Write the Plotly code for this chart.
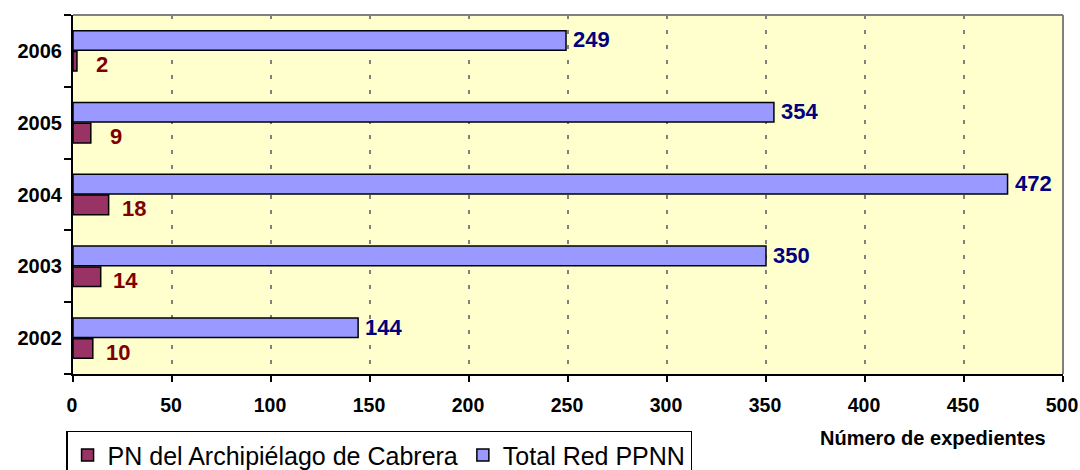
import plotly.graph_objects as go

years = ["2002", "2003", "2004", "2005", "2006"]
pn_cabrera = [10, 14, 18, 9, 2]
total_red = [144, 350, 472, 354, 249]
x_ticks = [0, 50, 100, 150, 200, 250, 300, 350, 400, 450, 500]

FONT = "Arial, Liberation Sans, sans-serif"

fig = go.Figure()
fig.add_trace(go.Bar(
    y=years, x=pn_cabrera, orientation="h", name="PN del Archipiélago de Cabrera",
    marker=dict(color="#993366", line=dict(color="black", width=1.5)),
))
fig.add_trace(go.Bar(
    y=years, x=total_red, orientation="h", name="Total Red PPNN",
    marker=dict(color="#9999FF", line=dict(color="black", width=1.5)),
))

annotations = []
for i, v in enumerate(total_red):
    annotations.append(dict(
        x=v, y=i, xref="x", yref="y", text=f"<b>{v}</b>", showarrow=False,
        xanchor="left", yanchor="middle", xshift=5, yshift=11,
        font=dict(family=FONT, size=22, color="#000080"),
    ))
for i, v in enumerate(pn_cabrera):
    annotations.append(dict(
        x=v, y=i, xref="x", yref="y", text=f"<b>{v}</b>", showarrow=False,
        xanchor="center", yanchor="middle", xshift=25, yshift=-14,
        font=dict(family=FONT, size=22, color="#800000"),
    ))
annotations.append(dict(
    x=0.869, y=-0.178, xref="paper", yref="paper", text="<b>Número de expedientes</b>",
    showarrow=False, xanchor="center", yanchor="middle",
    font=dict(family=FONT, size=20, color="black"),
))

fig.update_layout(
    width=1080, height=470,
    margin=dict(l=73, r=17, t=15, b=96, autoexpand=False),
    paper_bgcolor="white",
    plot_bgcolor="#FFFFCE",
    barmode="group",
    bargap=0.42,
    bargroupgap=0.06,
    font=dict(family=FONT, color="black"),
    showlegend=True,
    legend=dict(
        orientation="h", x=-0.007, y=-0.158, xanchor="left", yanchor="top",
        bgcolor="white", bordercolor="black", borderwidth=1.5,
        font=dict(family=FONT, size=25, color="black"),
        traceorder="normal",
    ),
    annotations=annotations,
    shapes=[
        dict(type="line", xref="paper", yref="paper", x0=0, x1=1, y0=1, y1=1,
             line=dict(color="#808080", width=2), layer="above"),
        dict(type="line", xref="paper", yref="paper", x0=1, x1=1, y0=0, y1=1,
             line=dict(color="#808080", width=2), layer="above"),
    ],
)

fig.update_xaxes(
    range=[0, 500], tickvals=x_ticks, ticktext=[str(t) for t in x_ticks],
    showgrid=True, gridcolor="#808080", gridwidth=2, griddash="4px,11px",
    showline=True, linecolor="black", linewidth=2,
    ticks="outside", ticklen=6, tickwidth=2, tickcolor="black",
    tickfont=dict(family=FONT, size=19.5, color="black", weight="bold"),
    ticklabelstandoff=7, ticklabelshift=-1,
    zeroline=False, fixedrange=True, automargin=False,
)
fig.update_yaxes(
    type="category", categoryorder="array", categoryarray=years,
    range=[-0.5, len(years) - 0.5],
    showgrid=False, showline=True, linecolor="black", linewidth=2,
    ticks="outside", ticklen=7, tickwidth=2, tickcolor="black", tickson="boundaries",
    tickfont=dict(family=FONT, size=20, color="black", weight="bold"),
    ticklabelstandoff=5, fixedrange=True, automargin=False,
)

# Remove the default page margin so the 1080x470 figure fills the view exactly.
fig.write_html(
    "out.html",
    config={"displayModeBar": False},
    post_script="document.body.style.margin='0';document.body.style.overflow='hidden';",
)
